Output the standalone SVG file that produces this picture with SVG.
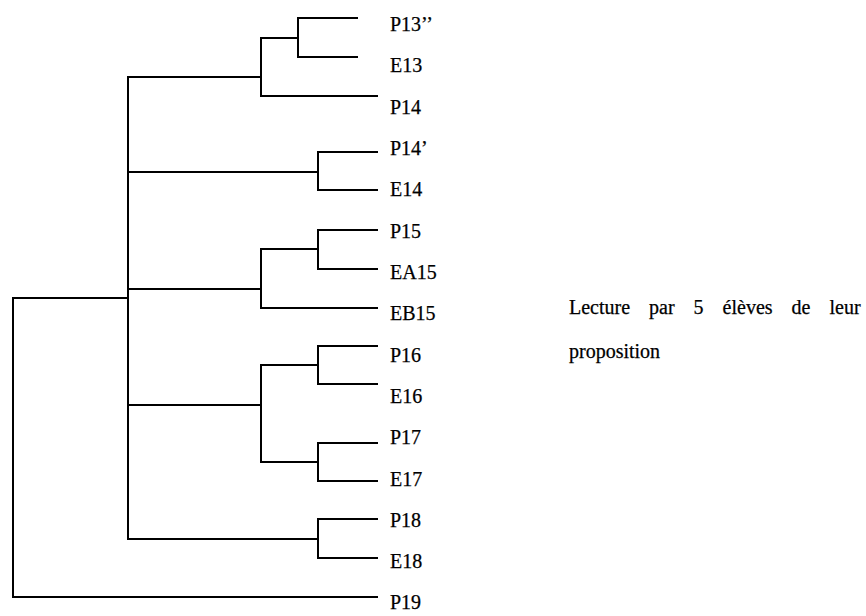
<svg xmlns="http://www.w3.org/2000/svg" width="866" height="616" viewBox="0 0 866 616">
<style>
.c{fill:none;stroke:#000;stroke-width:2;stroke-linecap:square}
.t{font-family:"Liberation Serif","Times New Roman",serif;font-size:20px;fill:#000;stroke:#000;stroke-width:0.25}
</style>
<rect width="866" height="616" fill="#fff"/>
<g id="connectors">
<path class="c" d="M357,18 H298 V57 H357 M298,38 H261 M261,38 V96 H377 M261,77 H128"/>
<path class="c" d="M377,152 H318 V190 H377 M318,172 H128"/>
<path class="c" d="M377,230 H318 V269 H377 M318,249 H261 M261,249 V308 H377 M261,289 H128"/>
<path class="c" d="M377,346 H318 V384 H377 M318,365 H261 V462 H318 M377,443 H318 V481 H377 M261,405 H128"/>
<path class="c" d="M377,519 H318 V558 H377 M318,539 H128"/>
<path class="c" d="M128,77 V539 M128,298 H13 V597 H377"/>
</g>
<g id="P13pp"><text class="t" x="390" y="31">P13’’</text></g>
<g id="E13"><text class="t" x="390" y="72">E13</text></g>
<g id="P14"><text class="t" x="390" y="114">P14</text></g>
<g id="P14p"><text class="t" x="390" y="155">P14’</text></g>
<g id="E14"><text class="t" x="390" y="196">E14</text></g>
<g id="P15"><text class="t" x="390" y="238">P15</text></g>
<g id="EA15"><text class="t" x="390" y="279">EA15</text></g>
<g id="EB15"><text class="t" x="390" y="320">EB15</text></g>
<g id="P16"><text class="t" x="390" y="362">P16</text></g>
<g id="E16"><text class="t" x="390" y="403">E16</text></g>
<g id="P17"><text class="t" x="390" y="444">P17</text></g>
<g id="E17"><text class="t" x="390" y="486">E17</text></g>
<g id="P18"><text class="t" x="390" y="527">P18</text></g>
<g id="E18"><text class="t" x="390" y="568">E18</text></g>
<g id="P19"><text class="t" x="390" y="609">P19</text></g>
<g id="note">
<text class="t" x="569" y="314" word-spacing="14">Lecture par 5 élèves de leur</text>
<text class="t" x="569" y="358">proposition</text>
</g>
</svg>
